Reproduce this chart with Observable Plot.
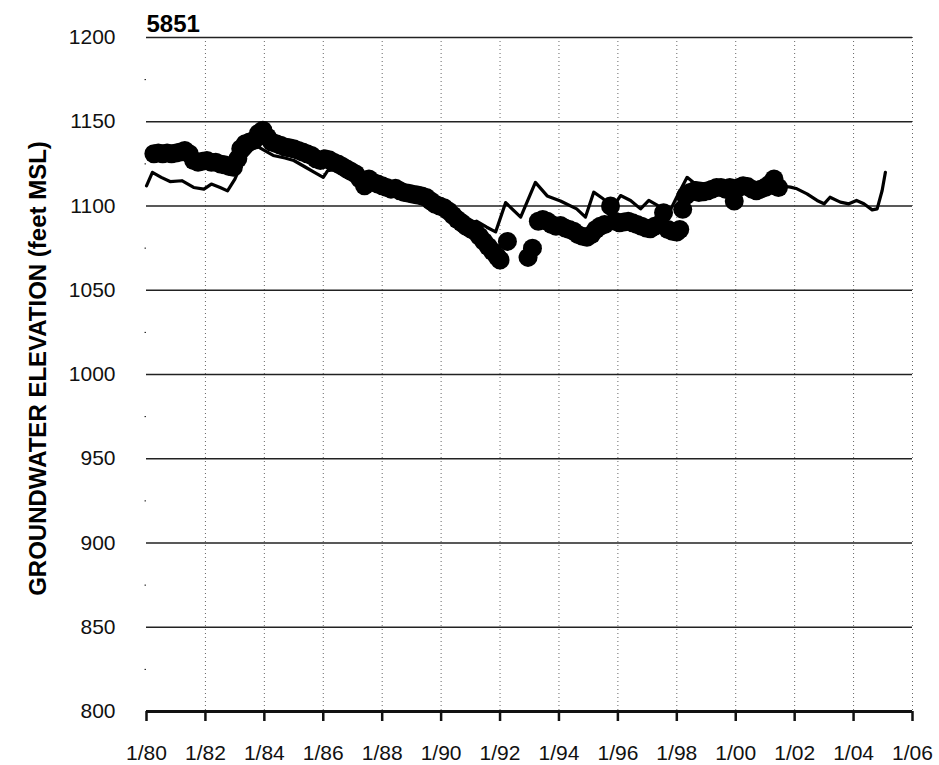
<!DOCTYPE html>
<html>
<head>
<meta charset="utf-8">
<script src="https://cdn.jsdelivr.net/npm/d3@7"></script>
<script src="https://cdn.jsdelivr.net/npm/@observablehq/plot@0.6"></script>
<style>
  html, body { margin: 0; padding: 0; background: #fff; }
  #chart { width: 939px; height: 765px; }
</style>
</head>
<body>
<div id="chart"></div>
<script>
const chartTitle = "5851";
const yLabel = "GROUNDWATER ELEVATION (feet MSL)";

const xTicks = [1980, 1982, 1984, 1986, 1988, 1990, 1992, 1994, 1996, 1998, 2000, 2002, 2004, 2006];
const xTickLabels = ["1/80", "1/82", "1/84", "1/86", "1/88", "1/90", "1/92", "1/94", "1/96", "1/98", "1/00", "1/02", "1/04", "1/06"];
const yTicks = [800, 850, 900, 950, 1000, 1050, 1100, 1150, 1200];
const yMinorTicks = [825, 875, 925, 975, 1025, 1075, 1125, 1175];

// Observed groundwater elevations (decimal year, feet MSL)
const obsYear = [
  1980.25, 1980.4, 1980.55, 1980.7, 1980.85, 1981.0, 1981.15, 1981.3, 1981.45, 1981.6,
  1981.75, 1981.9, 1982.05, 1982.2, 1982.35, 1982.5, 1982.65, 1982.8, 1982.95, 1983.1,
  1983.2, 1983.35, 1983.5, 1983.65, 1983.8, 1983.95, 1984.1, 1984.25, 1984.4, 1984.55,
  1984.7, 1984.85, 1985.0, 1985.15, 1985.3, 1985.45, 1985.6, 1985.75, 1985.9, 1986.05,
  1986.2, 1986.35, 1986.5, 1986.65, 1986.8, 1986.95, 1987.1, 1987.25, 1987.4, 1987.55,
  1987.7, 1987.85, 1988.0, 1988.15, 1988.3, 1988.45, 1988.6, 1988.75, 1988.9, 1989.05,
  1989.2, 1989.35, 1989.5, 1989.65, 1989.8, 1989.95, 1990.1, 1990.25, 1990.4, 1990.55,
  1990.7, 1990.85, 1991.0, 1991.15, 1991.3, 1991.45, 1991.6, 1991.75, 1991.9, 1992.0,
  1992.25, 1992.95, 1993.1, 1993.3, 1993.45, 1993.6, 1993.75, 1993.9, 1994.05, 1994.2,
  1994.35, 1994.5, 1994.65, 1994.8, 1994.95, 1995.1, 1995.25, 1995.4, 1995.55, 1995.75,
  1995.9, 1996.05, 1996.2, 1996.35, 1996.5, 1996.65, 1996.8, 1996.95, 1997.1, 1997.25,
  1997.4, 1997.55, 1997.7, 1997.85, 1998.0, 1998.1, 1998.2, 1998.3, 1998.45, 1998.6,
  1998.75, 1998.9, 1999.05, 1999.2, 1999.35, 1999.5, 1999.65, 1999.8, 1999.95, 2000.1,
  2000.25, 2000.4, 2000.55, 2000.7, 2000.85, 2001.0, 2001.15, 2001.3, 2001.45
];
const obsElev = [
  1131, 1131.5, 1131, 1131.5, 1131, 1131.5, 1132, 1133, 1131, 1127,
  1126, 1126.5, 1127, 1126, 1126, 1125, 1124.5, 1123.5, 1123, 1128,
  1134, 1137, 1138, 1139, 1143, 1145, 1141, 1138, 1137, 1136,
  1135, 1134.5, 1134, 1133, 1132, 1131, 1130, 1128, 1127, 1128,
  1127.5, 1126, 1125, 1123.5, 1122, 1120.5, 1119, 1116, 1112, 1116,
  1114, 1113, 1112, 1111, 1110, 1110.5, 1109, 1108, 1107.5, 1107,
  1106.5, 1106, 1105, 1103, 1101, 1100, 1099, 1097, 1094.5, 1092,
  1090, 1088, 1086.5, 1085, 1082, 1079, 1076, 1073, 1070, 1068,
  1079, 1069.5, 1075, 1091, 1092, 1091, 1089, 1088, 1088.5, 1087,
  1086, 1085, 1083, 1082, 1081.5, 1083, 1086, 1088, 1089, 1100,
  1091, 1090, 1090.5, 1091, 1090, 1089, 1088, 1087, 1086.5, 1088,
  1089, 1096, 1086, 1085, 1084.5, 1086, 1098, 1106, 1108, 1109,
  1108, 1108.5, 1109, 1110, 1111, 1111, 1110, 1111, 1103, 1111,
  1112, 1111.5, 1110, 1109, 1110, 1111, 1113, 1116, 1111
];

// Simulated groundwater elevations (decimal year, feet MSL)
const simYear = [
  1980.0, 1980.2, 1980.5, 1980.8, 1981.2, 1981.6, 1981.95, 1982.2, 1982.5, 1982.75,
  1983.0, 1983.3, 1983.7, 1984.0, 1984.3, 1984.7, 1985.0, 1985.4, 1985.7, 1986.0,
  1986.15, 1986.5, 1987.0, 1987.5, 1988.0, 1988.5, 1989.0, 1989.5, 1990.0, 1990.5,
  1991.0, 1991.2, 1991.55, 1991.85, 1992.19, 1992.7, 1993.2, 1993.6, 1994.05, 1994.6,
  1994.9, 1995.18, 1995.5, 1995.8, 1996.09, 1996.43, 1996.77, 1997.05, 1997.45, 1997.8,
  1998.0, 1998.35, 1998.57, 1999.0, 1999.5, 2000.0, 2000.5, 2001.0, 2001.5, 2001.86,
  2002.08, 2002.42, 2002.76, 2003.0, 2003.2, 2003.55, 2003.84, 2004.1, 2004.35, 2004.63,
  2004.8, 2004.97, 2005.08
];
const simElev = [
  1112, 1120, 1117, 1114.5, 1115, 1111, 1110, 1113, 1111, 1109,
  1116, 1128, 1136, 1133, 1130, 1128.5, 1127, 1123, 1120, 1117,
  1121, 1122, 1118, 1114, 1111, 1108, 1106, 1104, 1099, 1094,
  1090, 1091, 1087.4, 1084.6, 1102, 1093.4, 1114, 1106, 1103, 1098.3,
  1093.4, 1108.2, 1104.3, 1098.3, 1106.2, 1103.3, 1098.3, 1103.3, 1099.3, 1098.3,
  1105.3, 1117, 1114, 1113, 1114, 1114, 1113, 1113, 1112, 1111.2,
  1110.2, 1107.2, 1103.3, 1101.3, 1105.2, 1102.3, 1101.3, 1103.3, 1101.3, 1097.7,
  1098.3, 1109.2, 1120
];

const observed = obsYear.map((t, i) => ({t, v: obsElev[i]}));
const simulated = simYear.map((t, i) => ({t, v: simElev[i]}));

const font = "'Liberation Sans', Arial, Helvetica, sans-serif";

const chart = Plot.plot({
  width: 939,
  height: 765,
  marginTop: 37,
  marginRight: 27,
  marginBottom: 54,
  marginLeft: 146,
  style: {fontFamily: font, fontSize: "21px", color: "#111", background: "#fff", overflow: "visible"},
  x: {type: "linear", domain: [1980, 2006]},
  y: {domain: [800, 1200]},
  marks: [
    Plot.ruleX(xTicks.slice(1), {stroke: "#666", strokeWidth: 1, strokeDasharray: "1,3"}),
    Plot.ruleY(yTicks.slice(1), {stroke: "#222", strokeWidth: 1.6}),
    Plot.ruleY([800], {stroke: "#111", strokeWidth: 3}),
    Plot.axisX({ticks: xTicks, tickSize: 10, tickPadding: 24, strokeWidth: 2.5, tickFormat: d => xTickLabels[xTicks.indexOf(d)], label: null, fontSize: 21}),
    Plot.axisY({ticks: yTicks, tickSize: 0, tickPadding: 31, tickFormat: d => String(d), label: null, fontSize: 21}),
    Plot.axisY({ticks: yMinorTicks, tickSize: 1.5, tickFormat: () => "", label: null}),
    Plot.line(simulated, {x: "t", y: "v", stroke: "#000", strokeWidth: 3.2, strokeLinejoin: "round"}),
    Plot.dot(observed, {x: "t", y: "v", r: 9.5, fill: "#000", stroke: "none"}),
    Plot.text([chartTitle], {frameAnchor: "top-left", textAnchor: "start", lineAnchor: "bottom", dy: -6, fontSize: 24, fontWeight: "bold", fill: "#000"}),
    Plot.text([yLabel], {frameAnchor: "left", textAnchor: "middle", rotate: -90, dx: -108, dy: -6, fontSize: 24, fontWeight: "bold", fill: "#000"})
  ]
});

document.getElementById("chart").appendChild(chart);
</script>
</body>
</html>
